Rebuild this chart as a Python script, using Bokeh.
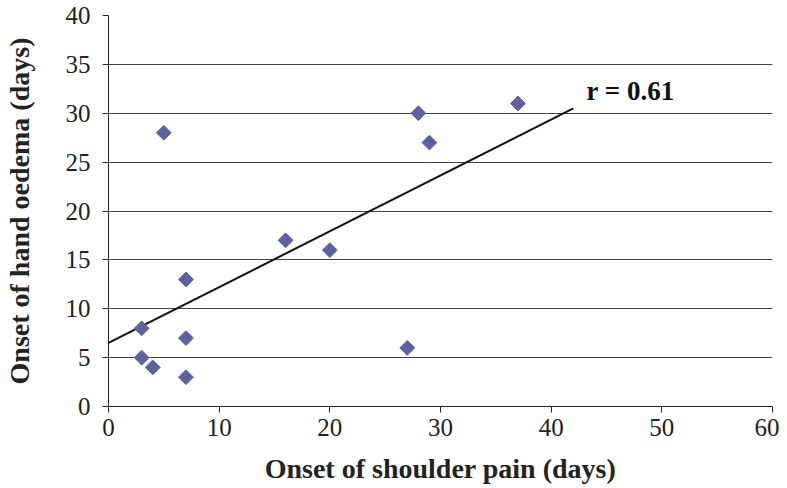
import math
from bokeh.plotting import figure
from bokeh.models import Range1d, FixedTicker, Label
from bokeh.embed import file_html
from bokeh.resources import INLINE

shoulder_pain = [3, 3, 4, 5, 7, 7, 7, 16, 20, 27, 28, 29, 37]
hand_oedema = [8, 5, 4, 28, 13, 7, 3, 17, 16, 6, 30, 27, 31]
trend_x = [0, 42]
trend_y = [6.5, 30.5]
x_ticks = [0, 10, 20, 30, 40, 50, 60]
y_ticks = [0, 5, 10, 15, 20, 25, 30, 35, 40]

FONT = "Liberation Serif"

p = figure(width=779, height=488, output_backend="svg", toolbar_location=None,
           x_range=Range1d(0, 60), y_range=Range1d(0, 40),
           min_border_left=108, min_border_right=7, min_border_top=15, min_border_bottom=82)
p.outline_line_color = None
p.background_fill_color = "white"

p.xgrid.grid_line_color = None
p.ygrid.grid_line_color = "#444444"
p.ygrid.grid_line_width = 1
p.ygrid.ticker = FixedTicker(ticks=y_ticks)

p.xaxis.ticker = FixedTicker(ticks=x_ticks)
p.yaxis.ticker = FixedTicker(ticks=y_ticks)
for ax in (p.xaxis[0], p.yaxis[0]):
    ax.axis_line_color = "#222222"
    ax.major_tick_line_color = "#222222"
    ax.major_tick_out = 6
    ax.major_tick_in = 0
    ax.minor_tick_line_color = None
    ax.major_label_text_font = FONT
    ax.major_label_text_font_size = "25px"
    ax.major_label_text_color = "#222222"
    ax.axis_label_text_font = FONT
    ax.axis_label_text_font_size = "28px"
    ax.axis_label_text_font_style = "bold"
    ax.axis_label_text_color = "#222222"

p.xaxis.axis_label = "Onset of shoulder pain (days)"
p.yaxis.axis_label = "Onset of hand oedema (days)"
p.xaxis.major_label_standoff = 6
p.yaxis.major_label_standoff = 12
p.xaxis.axis_label_standoff = 14
p.yaxis.axis_label_standoff = 28

p.line(trend_x, trend_y, line_color="#111111", line_width=2)
p.scatter(shoulder_pain, hand_oedema, marker="square", angle=math.pi / 4, size=10.5,
          fill_color="#5f609f", line_color="#5f609f")

p.add_layout(Label(x=43.2, y=32.3, text="r = 0.61", text_font=FONT,
                   text_font_size="27px", text_font_style="bold",
                   text_color="#111111", text_baseline="middle"))

open("out.html", "w").write(file_html(p, INLINE))
